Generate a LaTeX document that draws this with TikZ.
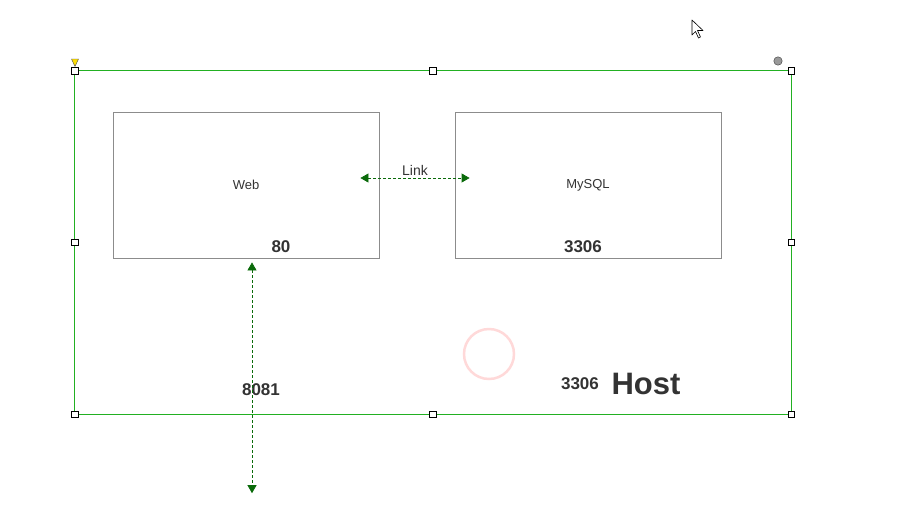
\documentclass[tikz,border=0pt]{standalone}
\usepackage{fontspec}
\setmainfont{Liberation Sans}
\usetikzlibrary{arrows.meta}

\definecolor{hostgreen}{HTML}{22B022}
\definecolor{tipgreen}{HTML}{0A6A0A}
\definecolor{inkgray}{HTML}{333333}

\tikzset{
  box/.style={draw=gray!90, line width=0.8pt, minimum width=266pt, minimum height=146pt,
    inner sep=0pt, font=\fontsize{13}{13}\selectfont, text=inkgray},
  handle/.style={draw=black, fill=white, line width=0.7pt, minimum size=6.5pt, inner sep=0pt},
  port/.style={font=\fontsize{17}{17}\selectfont\bfseries, text=inkgray, inner sep=0pt},
  conn/.style={densely dashed, tipgreen, line width=0.8pt, {Triangle[width=9pt,length=8pt]}-{Triangle[width=9pt,length=8pt]}}
}

\begin{document}
\begin{tikzpicture}[x=1pt,y=-1pt]

\useasboundingbox (0,0) rectangle (906,507);

% Draw the host frame
\node[minimum width=716pt, minimum height=343pt, inner sep=0pt] (host) at (433,242.5) {};
\draw[hostgreen, line width=1pt] (host.north west) rectangle (host.south east);

% Draw the containers
\node[box] (web) at (246,185) {\raisebox{-2pt}{Web}};
\node[box] (mysql) at (588,185) {\raisebox{-2pt}{MySQL}};

% Draw the ports
\node[port] (webport) at (281,247) {80};
\node[port] (sqlport) at (583,247) {3306};
\node[port] (hostport) at (580,384) {3306};
\node[port] (mapport) at (261,390) {8081};
\node[font=\fontsize{31}{31}\selectfont\bfseries, text=inkgray, inner sep=0pt] (hostlabel) at (646,384) {Host};

% Draw and label the link
\coordinate (linkA) at ([shift={(-19,-7)}]web.east);
\coordinate (linkB) at ([shift={(15,-7)}]mysql.west);
\draw[conn] (linkA) -- (linkB) node[midway, above=2.5pt, font=\fontsize{14}{14}\selectfont, text=inkgray, inner sep=0pt, text depth=0pt] (link) {Link};

% Draw the port mapping
\coordinate (mapA) at ([shift={(6,4)}]web.south);
\path (mapA |- host.south) ++(0,79) coordinate (mapB);
\draw[conn] (mapA) -- (mapB);

% Draw the selection handles
\foreach \p in {north west, north, north east, west, east, south west, south, south east}
  \node[handle] at (host.\p) {};

% Draw the markers
\fill[yellow!80!orange, draw=black!70, line width=0.4pt] (71.5,59) -- (78.5,59) -- (75,66.5) -- cycle;
\fill[gray!80, draw=gray!60!black, line width=0.5pt] (778,61) circle (4.2);
\draw[red!25, line width=2.5pt, opacity=0.6] (489,354) circle (25);

% Draw the cursor
\filldraw[fill=white, draw=black, line width=0.6pt, line join=round]
  (692,20) -- (692,35) -- (695.5,31.5) -- (698.5,38) -- (700.5,37) -- (697.5,30.5) -- (703,30.5) -- cycle;

\end{tikzpicture}
\end{document}
